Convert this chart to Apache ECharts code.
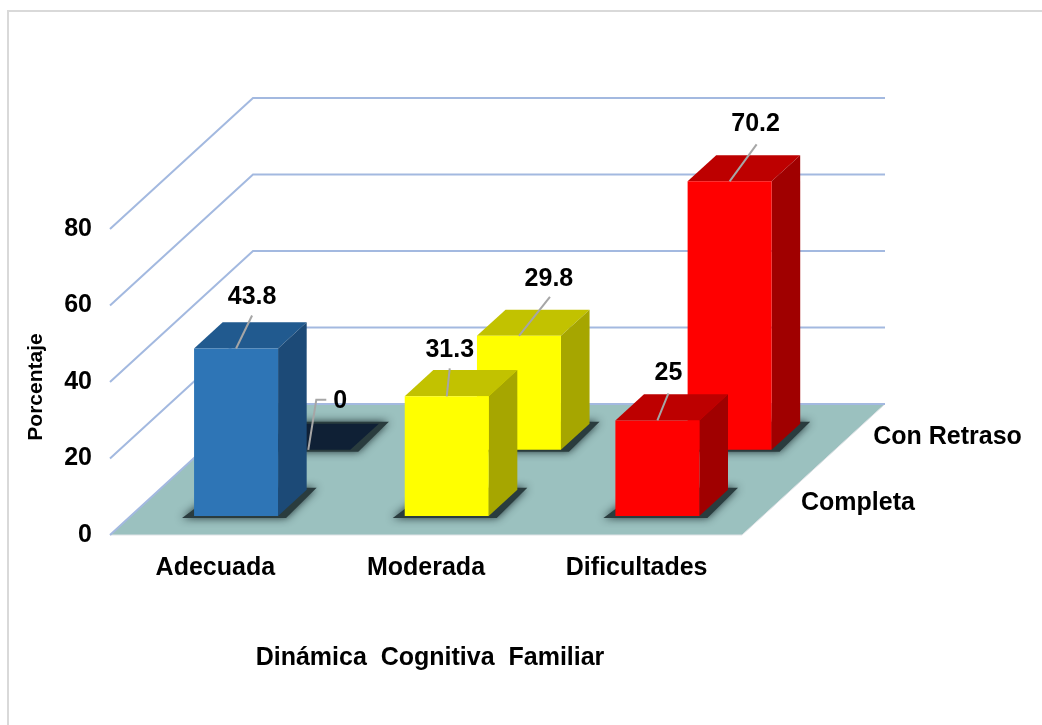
<!DOCTYPE html>
<html>
<head>
<meta charset="utf-8">
<style>html,body{margin:0;padding:0;background:#fff}#c{width:1042px;height:725px}</style>
<script src="https://cdn.jsdelivr.net/npm/echarts@6/dist/echarts.min.js"></script>
</head>
<body>
<div id="c"></div>
<script>
const categories = ['Adecuada', 'Moderada', 'Dificultades'];
const depthNames = ['Completa', 'Con Retraso'];
const completa = [43.8, 31.3, 25];
const conRetraso = [0, 29.8, 70.2];
const yTicks = [0, 20, 40, 60, 80];

// presentation only
const FONT = '"Liberation Sans Narrow","Liberation Sans",sans-serif';
const DEPTH = { x: 143, y: -131 };
const faces = [
  { front: '#2e75b6', top: '#215a8f', side: '#1c4a77' },
  { front: '#ffff00', top: '#c2c200', side: '#a6a600' },
  { front: '#ff0000', top: '#bd0000', side: '#a00000' }
];
const rows = [{ start: 0.145, labelAt: 0.245 }, { start: 0.65, labelAt: 0.75 }];
const barDepth = 0.2, barWidth = 84;
const labelLayout = [
  [{ end: [16, -33], text: [16, -51] }, { end: [3, -28], text: [3, -46] }, { end: [11, -27], text: [11, -47] }],
  [{ elbow: [8, -50], end: [18, -50], text: [32, -49] }, { end: [31, -39], text: [30, -57] }, { end: [27, -37], text: [26, -57] }]
];
const font = s => 'bold ' + s + 'px ' + FONT;

function barSeries(values, r) {
  const row = rows[r];
  return {
    type: 'custom', name: depthNames[r], z: 10 + r * -1 + 1, silent: true,
    encode: { x: 0, y: 1 },
    data: values.map((v, i) => [i, v]),
    renderItem(params, api) {
      const i = api.value(0), v = api.value(1);
      const base = api.coord([i, 0]), topP = api.coord([i, v]);
      const ox = base[0] + DEPTH.x * row.start, oy = base[1] + DEPTH.y * row.start;
      const h = base[1] - topP[1];
      const dx = DEPTH.x * barDepth, dy = DEPTH.y * barDepth;
      const l = ox - barWidth / 2, r0 = ox + barWidth / 2, b = oy, t = oy - h;
      const c = faces[i], kids = [];
      kids.push({ type: 'polygon',
        shape: { points: [[l - 12, b + 2], [r0 + 8, b + 2], [r0 + dx + 10, b + dy - 2], [l + dx, b + dy - 2]] },
        style: { fill: '#2a3c3e', shadowBlur: 8, shadowColor: 'rgba(20,35,40,0.9)' } });
      if (v === 0) {
        kids.push({ type: 'polygon', shape: { points: [[l, b], [r0, b], [r0 + dx, b + dy], [l + dx, b + dy]] }, style: { fill: '#0f2035' } });
      } else {
        kids.push({ type: 'polygon', shape: { points: [[l, t], [r0, t], [r0 + dx, t + dy], [l + dx, t + dy]] }, style: { fill: c.top } });
        kids.push({ type: 'polygon', shape: { points: [[r0, t], [r0 + dx, t + dy], [r0 + dx, b + dy], [r0, b]] }, style: { fill: c.side } });
        kids.push({ type: 'polygon', shape: { points: [[l, t], [r0, t], [r0, b], [l, b]] }, style: { fill: c.front } });
      }
      const lay = labelLayout[r][i];
      const pts = [[ox, t]];
      if (lay.elbow) pts.push([ox + lay.elbow[0], t + lay.elbow[1]]);
      pts.push([ox + lay.end[0], t + lay.end[1]]);
      kids.push({ type: 'polyline', shape: { points: pts }, style: { stroke: '#a6a6a6', lineWidth: 2, fill: null } });
      kids.push({ type: 'text', style: { text: String(v), x: ox + lay.text[0], y: t + lay.text[1], align: 'center', verticalAlign: 'middle', font: font(25), fill: '#000' } });
      return { type: 'group', children: kids };
    }
  };
}

const option = {
  backgroundColor: '#fff',
  animation: false,
  grid: { left: 110, right: 300, top: 229, bottom: 190 },
  graphic: [{ type: 'polyline', shape: { points: [[8, 725], [8, 11], [1042, 11]] }, style: { stroke: '#d9d9d9', lineWidth: 2, fill: null }, silent: true }],
  xAxis: {
    type: 'category', data: categories,
    axisLine: { show: false }, axisTick: { show: false }, splitLine: { show: false },
    axisLabel: { margin: 21, color: '#000', fontFamily: FONT, fontWeight: 'bold', fontSize: 25 },
    name: 'Dinámica  Cognitiva  Familiar', nameLocation: 'middle', nameGap: 111,
    nameTextStyle: { color: '#000', fontFamily: FONT, fontWeight: 'bold', fontSize: 25, padding: [0, 0, 0, 8] }
  },
  yAxis: {
    type: 'value', min: 0, max: 80, interval: 20,
    axisLine: { show: false }, axisTick: { show: false }, splitLine: { show: false },
    axisLabel: { margin: 18, color: '#000', fontFamily: FONT, fontWeight: 'bold', fontSize: 25, padding: [0, 0, 4, 0], customValues: yTicks },
    name: 'Porcentaje', nameLocation: 'middle', nameGap: 63, nameRotate: 90,
    nameTextStyle: { color: '#000', fontFamily: '"Liberation Sans",sans-serif', fontWeight: 'bold', fontSize: 21, padding: [0, 10, 0, 0] }
  },
  series: [
    { type: 'custom', name: 'floor', z: 1, silent: true, data: [[0, 0]], encode: { x: 0, y: 1 },
      renderItem(params) {
        const g = params.coordSys, b = g.y + g.height;
        return { type: 'polygon', shape: { points: [[g.x, b], [g.x + g.width, b], [g.x + g.width + DEPTH.x, b + DEPTH.y], [g.x + DEPTH.x, b + DEPTH.y]] },
          style: { fill: '#9bc1bf', stroke: '#dfe3e6', lineWidth: 1 } };
      } },
    { type: 'custom', name: 'walls', z: 2, silent: true, encode: { x: 0, y: 1 },
      data: yTicks.map(v => [0, v]),
      renderItem(params, api) {
        const g = params.coordSys, y = api.coord([0, api.value(1)])[1];
        return { type: 'polyline', shape: { points: [[g.x, y], [g.x + DEPTH.x, y + DEPTH.y], [g.x + g.width + DEPTH.x, y + DEPTH.y]] },
          style: { stroke: '#a3b9e0', lineWidth: 2, fill: null } };
      } },
    barSeries(conRetraso, 1),
    barSeries(completa, 0),
    { type: 'custom', name: 'depth', z: 20, silent: true, encode: { x: 0, y: 1 },
      data: depthNames.map((n, r) => [2, 0, r]),
      renderItem(params, api) {
        const g = params.coordSys, r = api.value(2), f = rows[r].labelAt, b = g.y + g.height;
        return { type: 'text', style: { text: depthNames[r], x: g.x + g.width + DEPTH.x * f + 24, y: b + DEPTH.y * f, align: 'left', verticalAlign: 'middle', font: font(25), fill: '#000' } };
      } }
  ]
};
echarts.init(document.getElementById('c'), null, { renderer: 'canvas' }).setOption(option);
</script>
</body>
</html>
